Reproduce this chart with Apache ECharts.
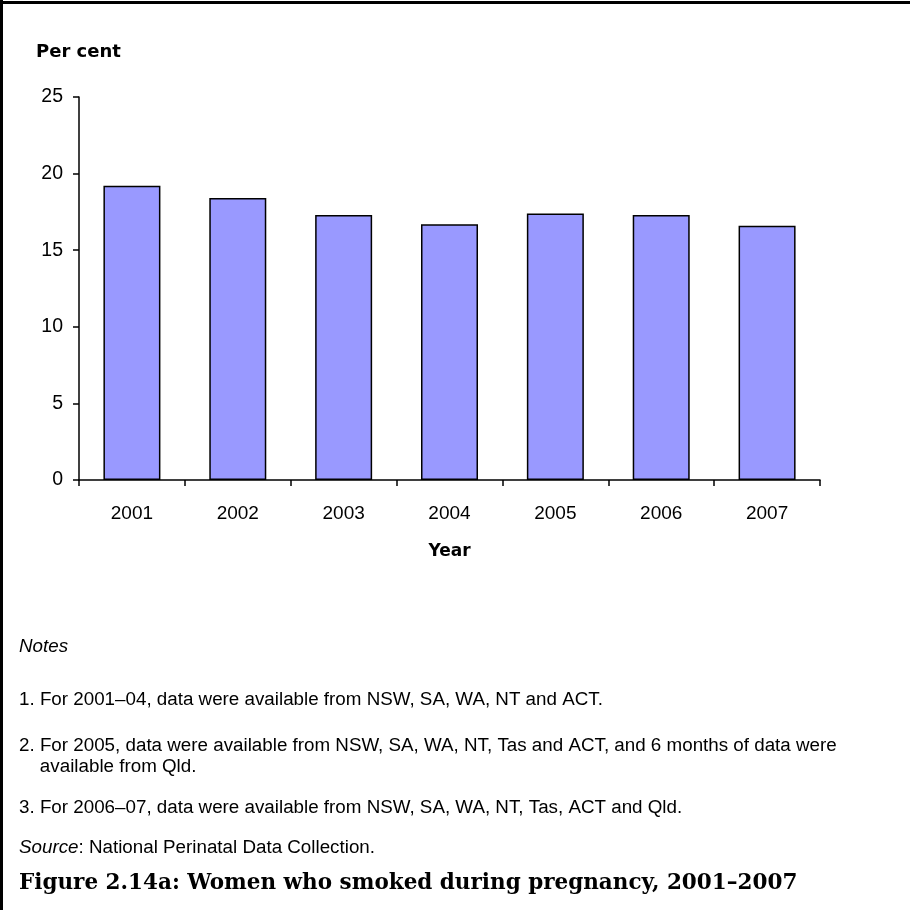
<!DOCTYPE html>
<html>
<head>
<meta charset="utf-8">
<script src="https://cdn.jsdelivr.net/npm/echarts@6/dist/echarts.min.js"></script>
<style>
html,body{margin:0;padding:0;background:#fff;}
#chart{width:910px;height:910px;}
</style>
</head>
<body>
<div id="chart"></div>
<script>
const years = ['2001','2002','2003','2004','2005','2006','2007'];
const smokedPct = [19.2, 18.4, 17.3, 16.7, 17.4, 17.3, 16.6];
const yTicks = {min: 0, max: 25, interval: 5};
const yAxisTitle = 'Per cent';
const xAxisTitle = 'Year';
const notesHeading = 'Notes';
const notes = [
  '1. For 2001\u201304, data were available from NSW, SA, WA, NT and ACT.',
  '2. For 2005, data were available from NSW, SA, WA, NT, Tas and ACT, and 6 months of data were',
  '    available from Qld.',
  '3. For 2006\u201307, data were available from NSW, SA, WA, NT, Tas, ACT and Qld.'
];
const sourceLabel = 'Source';
const sourceText = ': National Perinatal Data Collection.';
const figureTitle = 'Figure 2.14a: Women who smoked during pregnancy, 2001\u20132007';

const chart = echarts.init(document.getElementById('chart'), null, {renderer: 'canvas'});
const sans = '"Liberation Sans", Arial, sans-serif';
const wideSans = '"DejaVu Sans", "Liberation Sans", sans-serif';
const serif = '"DejaVu Serif", "Liberation Serif", serif';
const noteFont = '18.8px ' + sans;
const noteStyle = {fill: '#000', font: noteFont, textVerticalAlign: 'middle'};

chart.setOption({
  animation: false,
  backgroundColor: '#fff',
  grid: {left: 79, right: 90, top: 97, bottom: 430, containLabel: false},
  xAxis: {
    type: 'category',
    data: years,
    axisLine: {lineStyle: {color: '#000', width: 1.5}},
    axisTick: {show: true, length: 6, lineStyle: {color: '#000', width: 1.5}},
    axisLabel: {color: '#000', fontFamily: sans, fontSize: 19, margin: 24},
    name: xAxisTitle,
    nameLocation: 'middle',
    nameGap: 63,
    nameTextStyle: {color: '#000', fontFamily: wideSans, fontSize: 17, fontWeight: 'bold'}
  },
  yAxis: {
    type: 'value',
    min: yTicks.min, max: yTicks.max, interval: yTicks.interval,
    axisLine: {show: true, lineStyle: {color: '#000', width: 1.5}},
    axisTick: {show: true, length: 6, lineStyle: {color: '#000', width: 1.5}},
    splitLine: {show: false},
    axisLabel: {color: '#000', fontFamily: sans, fontSize: 19.5, margin: 16}
  },
  series: [{
    type: 'bar',
    data: smokedPct,
    barWidth: 57,
    itemStyle: {color: '#9999FF', borderColor: '#000', borderWidth: 1.5}
  }],
  graphic: [
    {type: 'line', shape: {x1: 1, y1: 2.5, x2: 910, y2: 2.5}, style: {stroke: '#000', lineWidth: 3}, silent: true},
    {type: 'line', shape: {x1: 1.5, y1: 0, x2: 1.5, y2: 910}, style: {stroke: '#000', lineWidth: 3}, silent: true},
    {type: 'text', x: 36, y: 52, style: {text: yAxisTitle, fill: '#000', font: 'bold 18px ' + wideSans, textVerticalAlign: 'middle'}},
    {type: 'text', x: 19, y: 647, style: Object.assign({}, noteStyle, {text: notesHeading, font: 'italic ' + noteFont})},
    {type: 'text', x: 19, y: 700, style: Object.assign({}, noteStyle, {text: notes[0]})},
    {type: 'text', x: 19, y: 746, style: Object.assign({}, noteStyle, {text: notes[1]})},
    {type: 'text', x: 19, y: 767, style: Object.assign({}, noteStyle, {text: notes[2]})},
    {type: 'text', x: 19, y: 808, style: Object.assign({}, noteStyle, {text: notes[3]})},
    {type: 'text', x: 19, y: 848, style: Object.assign({}, noteStyle, {
      text: '{i|' + sourceLabel + '}' + sourceText,
      rich: {i: {font: 'italic ' + noteFont, fill: '#000'}}
    })},
    {type: 'text', x: 19, y: 883, style: {text: figureTitle, fill: '#000', font: 'bold 21.5px ' + serif, textVerticalAlign: 'middle'}}
  ]
});
</script>
</body>
</html>
